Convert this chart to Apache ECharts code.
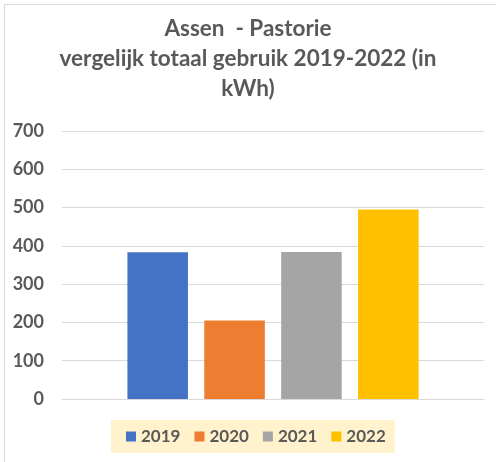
<!DOCTYPE html>
<html>
<head>
<meta charset="utf-8">
<script src="https://cdn.jsdelivr.net/npm/echarts@6/dist/echarts.min.js"></script>
<style>
  body { margin: 0; background: #fff; }
  #main { position: absolute; left: 0; top: 0; width: 496px; height: 462px; }
  #frame { position: absolute; left: 4px; top: 4px; width: 510px; height: 480px;
           border: 1px solid #d9d9d9; pointer-events: none; }
</style>
</head>
<body>
<div id="main"></div>
<div id="frame"></div>
<script>
// jaren en verbruik (kWh)
var years = ['2019', '2020', '2021', '2022'];
var usage = [383, 205, 384, 495];
var colors = ['#4472c4', '#ed7d31', '#a5a5a5', '#ffc000'];
var titleText = 'Assen  - Pastorie\nvergelijk totaal gebruik 2019-2022 (in\nkWh)';

var myChart = echarts.init(document.getElementById('main'));

var seriesArr = [];
years.forEach(function (y, i) {
    seriesArr.push({
        name: y,
        type: 'bar',
        data: [usage[i]],
        itemStyle: { color: colors[i] },
        barGap: '27%',
        barCategoryGap: '31%'
    });
});

var option = {
    animation: false,
    title: {
        text: titleText,
        left: 'center',
        top: 9,
        textStyle: {
            fontFamily: 'Lato',
            fontSize: 22.5,
            fontWeight: 'bold',
            color: '#595959',
            lineHeight: 30
        }
    },
    legend: {
        data: years,
        left: 111,
        top: 420,
        padding: [8, 9, 8, 15],
        backgroundColor: '#fff2cc',
        itemWidth: 10,
        itemHeight: 10,
        itemGap: 14,
        icon: 'rect',
        textStyle: { fontFamily: 'Lato', fontSize: 17, fontWeight: 'bold', color: '#595959' }
    },
    grid: { left: 62, right: 12, top: 131, bottom: 63 },
    xAxis: {
        type: 'category',
        data: [''],
        axisLine: { lineStyle: { color: '#d9d9d9' } },
        axisTick: { show: false },
        axisLabel: { show: false }
    },
    yAxis: {
        type: 'value',
        min: 0,
        max: 700,
        interval: 100,
        axisLabel: { fontFamily: 'Lato', fontSize: 18, fontWeight: 'bold', color: '#595959', margin: 18 },
        splitLine: { lineStyle: { color: '#d9d9d9' } }
    },
    series: seriesArr
};
myChart.setOption(option);
</script>
</body>
</html>
